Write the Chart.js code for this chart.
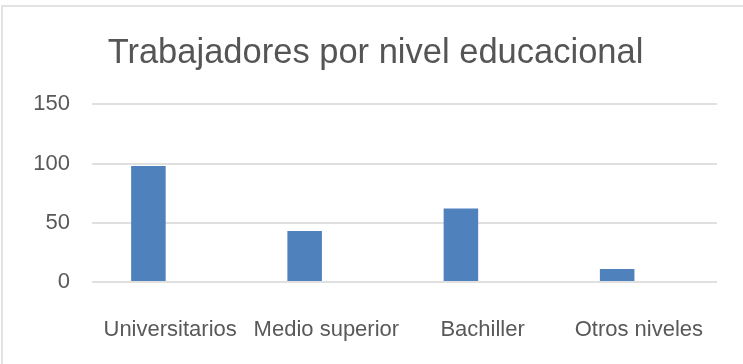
<!DOCTYPE html>
<html>
<head>
<meta charset="utf-8">
<script src="https://cdn.jsdelivr.net/npm/chart.js@4.4.0/dist/chart.umd.min.js"></script>
<style>
  body { margin: 0; background: #fff; }
  #wrap { position: relative; width: 743px; height: 364px; }
  #marco { position: absolute; left: 1px; top: 5px; right: -5px; bottom: -5px;
           border-top: 2px solid #e2e2e2; border-left: 2px solid #e2e2e2; pointer-events: none; }
</style>
</head>
<body>
<div id="wrap">
  <canvas id="myChart" width="743" height="364"></canvas>
  <div id="marco"></div>
</div>
<script>
// datos
var niveles = ['Universitarios', 'Medio superior', 'Bachiller', 'Otros niveles'];
var trabajadores = [98, 43, 62, 11];
// serie vacia (en el original hay un hueco a la derecha de cada barra)
var serieVacia = [null, null, null, null];
var ticksY = [0, 50, 100, 150];

const ctx = document.getElementById('myChart').getContext('2d');
const myChart = new Chart(ctx, {
    type: 'bar',
    data: {
        labels: niveles,
        datasets: [
            {
                label: 'Trabajadores',
                data: trabajadores,
                backgroundColor: '#4F81BD',
                categoryPercentage: 0.556,
                barPercentage: 0.795
            },
            {
                label: '',
                data: serieVacia,
                backgroundColor: '#4F81BD',
                categoryPercentage: 0.556,
                barPercentage: 0.795
            }
        ]
    },
    options: {
        responsive: false,
        animation: false,
        layout: {
            padding: { left: 34, right: 26, top: 33, bottom: 20 }
        },
        plugins: {
            legend: { display: false },
            tooltip: { enabled: false },
            title: {
                display: true,
                text: 'Trabajadores por nivel educacional',
                color: '#555555',
                font: { family: 'Liberation Sans', size: 34.5, weight: 'normal' },
                padding: { top: 0, bottom: 30 }
            }
        },
        scales: {
            x: {
                grid: { display: false },
                border: { display: false },
                ticks: {
                    color: '#595959',
                    font: { family: 'Liberation Sans', size: 22 },
                    padding: 27,
                    maxRotation: 0,
                    autoSkip: false
                },
                afterFit: function(scale) { scale.height = 62; }
            },
            y: {
                min: 0,
                max: 150,
                afterBuildTicks: function(scale) {
                    scale.ticks = ticksY.map(function(v) { return { value: v }; });
                },
                grid: { color: '#e0e0e0', lineWidth: 2, drawTicks: false },
                border: { display: false },
                ticks: {
                    color: '#595959',
                    font: { family: 'Liberation Sans', size: 22 },
                    padding: 22
                },
                afterFit: function(scale) { scale.width = 58; }
            }
        }
    }
});
</script>
</body>
</html>
